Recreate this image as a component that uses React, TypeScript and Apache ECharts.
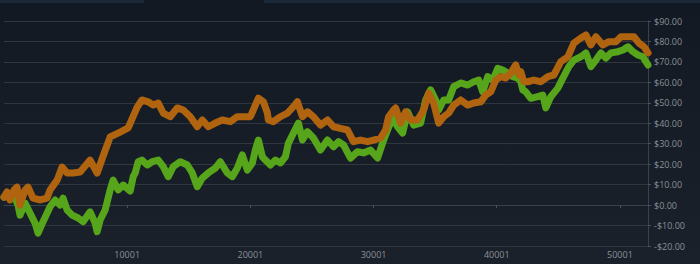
import React, { useEffect, useRef } from "react";
import * as echarts from "echarts";

// Sale index (x) and price (USD) of each series
const orangeX = [1, 245, 489, 814, 1058, 1302, 1708, 1952, 2359, 2928, 3497, 3741, 4310, 4716, 5123, 5611, 6180, 6993, 7562, 8050, 8619, 9432, 10082, 10814, 11196, 11708, 12115, 12521, 12928, 13497, 14066, 14554, 15123, 15692, 16098, 16586, 17155, 17724, 18375, 18944, 19432, 20001, 20407, 20651, 21058, 21383, 21464, 21871, 22440, 23009, 23497, 23822, 24228, 24635, 25123, 25692, 26261, 26749, 27318, 27887, 28375, 28944, 29513, 30001, 30570, 30977, 31221, 31627, 31790, 32196, 32602, 33009, 33578, 34066, 34473, 34879, 35286, 35692, 36099, 36506, 37075, 37644, 38132, 38700, 39107, 39513, 39920, 40326, 40733, 41140, 41546, 41790, 41953, 42197, 42522, 43010, 43579, 44148, 44636, 45205, 45774, 46262, 46831, 47238, 47644, 48051, 48620, 49108, 49677, 50083, 50652, 51140, 51547, 51954, 52280];
const orangeY = [3.9, 6.4, 2.5, 7.4, 8.8, 0.0, 7.4, 8.8, 3.4, 2.5, 3.4, 7.4, 12.2, 18.6, 15.7, 15.7, 16.2, 22.0, 15.7, 24.0, 33.3, 35.7, 37.7, 47.9, 51.4, 50.5, 48.9, 49.9, 45.0, 43.2, 47.5, 46.5, 43.2, 38.3, 41.6, 38.3, 40.1, 41.6, 40.8, 43.2, 43.2, 43.2, 48.9, 52.3, 50.5, 45.0, 41.6, 40.8, 43.2, 45.0, 48.1, 50.5, 43.2, 45.6, 43.2, 39.1, 41.6, 38.3, 37.5, 36.7, 31.0, 31.8, 31.0, 31.8, 32.8, 36.7, 43.2, 46.5, 47.5, 40.1, 45.6, 41.6, 41.6, 46.5, 54.8, 49.9, 40.1, 43.2, 45.0, 48.9, 51.4, 48.9, 49.9, 50.5, 53.8, 55.4, 61.1, 62.8, 62.1, 64.6, 68.5, 63.6, 65.2, 60.3, 60.3, 61.1, 60.3, 62.8, 63.6, 70.1, 72.5, 79.2, 81.7, 83.2, 78.3, 82.3, 78.3, 79.9, 79.9, 82.3, 82.3, 82.3, 79.2, 77.4, 74.4];

const greenX = [1, 489, 895, 1139, 1302, 1708, 2115, 2521, 2765, 3172, 3741, 4147, 4554, 4797, 5123, 5530, 6017, 6424, 6993, 7399, 7562, 7806, 8212, 8619, 8863, 9269, 9676, 10245, 10489, 10651, 10895, 11196, 11627, 12033, 12521, 12928, 13334, 13741, 14310, 14879, 15285, 15692, 16098, 16586, 17155, 17562, 18131, 18537, 18944, 19350, 19757, 20163, 20407, 20651, 20977, 21221, 21627, 22033, 22440, 22846, 23090, 23497, 23903, 24228, 24635, 25123, 25692, 26261, 26749, 27155, 27562, 28131, 28700, 29188, 29757, 30326, 30733, 31140, 31546, 31953, 32359, 32765, 33253, 33822, 34229, 34635, 35042, 35286, 35692, 36099, 36506, 37075, 37644, 38132, 38538, 38864, 39270, 39676, 40082, 40489, 40895, 41302, 41708, 41953, 42115, 42359, 42766, 43335, 43741, 43985, 44392, 44961, 45367, 45855, 46262, 46831, 47238, 47644, 48051, 48457, 48864, 49270, 49840, 50246, 50652, 51059, 51465, 51872, 52280];
const greenY = [3.9, 5.4, 3.4, 0.0, -4.9, 1.0, -3.9, -8.8, -13.7, -8.1, -0.8, 2.5, 0.0, 3.4, -2.4, -4.9, -6.3, -8.1, -3.3, -8.8, -13.0, -7.3, -2.4, 7.4, 12.2, 7.4, 9.8, 6.9, 13.9, 15.7, 21.2, 22.0, 19.6, 21.2, 22.0, 18.8, 13.9, 18.8, 21.2, 19.6, 15.7, 9.0, 13.2, 15.7, 18.1, 21.2, 15.7, 13.9, 18.1, 24.5, 17.1, 20.6, 26.9, 31.8, 23.6, 22.0, 19.6, 22.0, 20.6, 23.6, 30.3, 35.2, 40.1, 31.8, 35.9, 32.8, 26.9, 31.8, 28.5, 31.0, 29.4, 23.0, 26.1, 25.5, 26.9, 23.0, 30.3, 36.7, 42.6, 38.3, 35.2, 45.6, 39.1, 40.1, 51.4, 56.3, 51.4, 46.5, 51.4, 51.4, 57.9, 59.7, 58.7, 60.3, 61.1, 55.4, 62.8, 61.1, 66.9, 66.0, 64.6, 62.8, 62.1, 60.3, 56.3, 55.4, 52.2, 53.0, 53.8, 47.5, 53.0, 57.2, 62.1, 67.7, 70.9, 72.5, 74.4, 67.7, 70.9, 74.4, 71.9, 74.4, 75.0, 75.8, 77.4, 75.0, 73.4, 72.5, 68.5];

const xMin = 1;
const xMax = 52280;
const xStep = 10000;
const yMin = -20;
const yMax = 90;
const yStep = 10;

const zip = (xs: number[], ys: number[]) => xs.map((x, i) => [x, ys[i]]);

export default function App() {
  const ref = useRef<HTMLDivElement>(null);
  useEffect(() => {
    document.body.style.margin = "0";
    if (!ref.current) return;
    const chart = echarts.init(ref.current, undefined, { renderer: "svg" });
    const labelColor = "#8a9199";
    const lineColor = "#2f363f";
    chart.setOption({
      animation: false,
      backgroundColor: {
        type: "linear",
        x: 0,
        y: 0,
        x2: 0,
        y2: 1,
        colorStops: [
          { offset: 0, color: "#121922" },
          { offset: 1, color: "#1b212a" },
        ],
      },
      graphic: [
        { type: "rect", left: 0, top: 0, shape: { width: 144, height: 3 }, style: { fill: "#1b2838" } },
        { type: "rect", left: 264, top: 0, shape: { width: 436, height: 3 }, style: { fill: "#1b2838" } },
      ],
      grid: { left: 4, right: 52, top: 21, bottom: 18 },
      xAxis: {
        type: "value",
        min: xMin,
        max: xMax,
        interval: xStep,
        axisLine: { show: true, lineStyle: { color: "#3a414a" } },
        axisTick: { show: true, length: 3, lineStyle: { color: "#4a525c" } },
        axisLabel: {
          color: labelColor,
          fontSize: 9,
          fontFamily: "Open Sans, Arial, sans-serif",
          margin: 4,
          showMinLabel: false,
          showMaxLabel: false,
          formatter: (v: number) => String(v),
        },
        splitLine: { show: false },
      },
      yAxis: {
        type: "value",
        position: "right",
        min: yMin,
        max: yMax,
        interval: yStep,
        axisLine: { show: true, lineStyle: { color: "#3a414a" } },
        axisTick: { show: true, length: 3, lineStyle: { color: "#4a525c" } },
        axisLabel: {
          color: labelColor,
          fontSize: 9,
          fontFamily: "Open Sans, Arial, sans-serif",
          margin: 6,
          formatter: (v: number) => (v < 0 ? "-$" : "$") + Math.abs(v).toFixed(2),
        },
        splitLine: { show: true, lineStyle: { color: lineColor, width: 1 } },
      },
      series: [
        {
          type: "line",
          data: zip(greenX, greenY),
          showSymbol: false,
          lineStyle: { color: "#56a51b", width: 7, join: "round", cap: "round" },
          itemStyle: { color: "#56a51b" },
        },
        {
          type: "line",
          data: zip(orangeX, orangeY),
          showSymbol: false,
          lineStyle: { color: "#b0640f", width: 7, join: "round", cap: "round" },
          itemStyle: { color: "#b0640f" },
        },
      ],
    });
    return () => chart.dispose();
  }, []);
  return <div ref={ref} style={{ width: 700, height: 264 }} />;
}
